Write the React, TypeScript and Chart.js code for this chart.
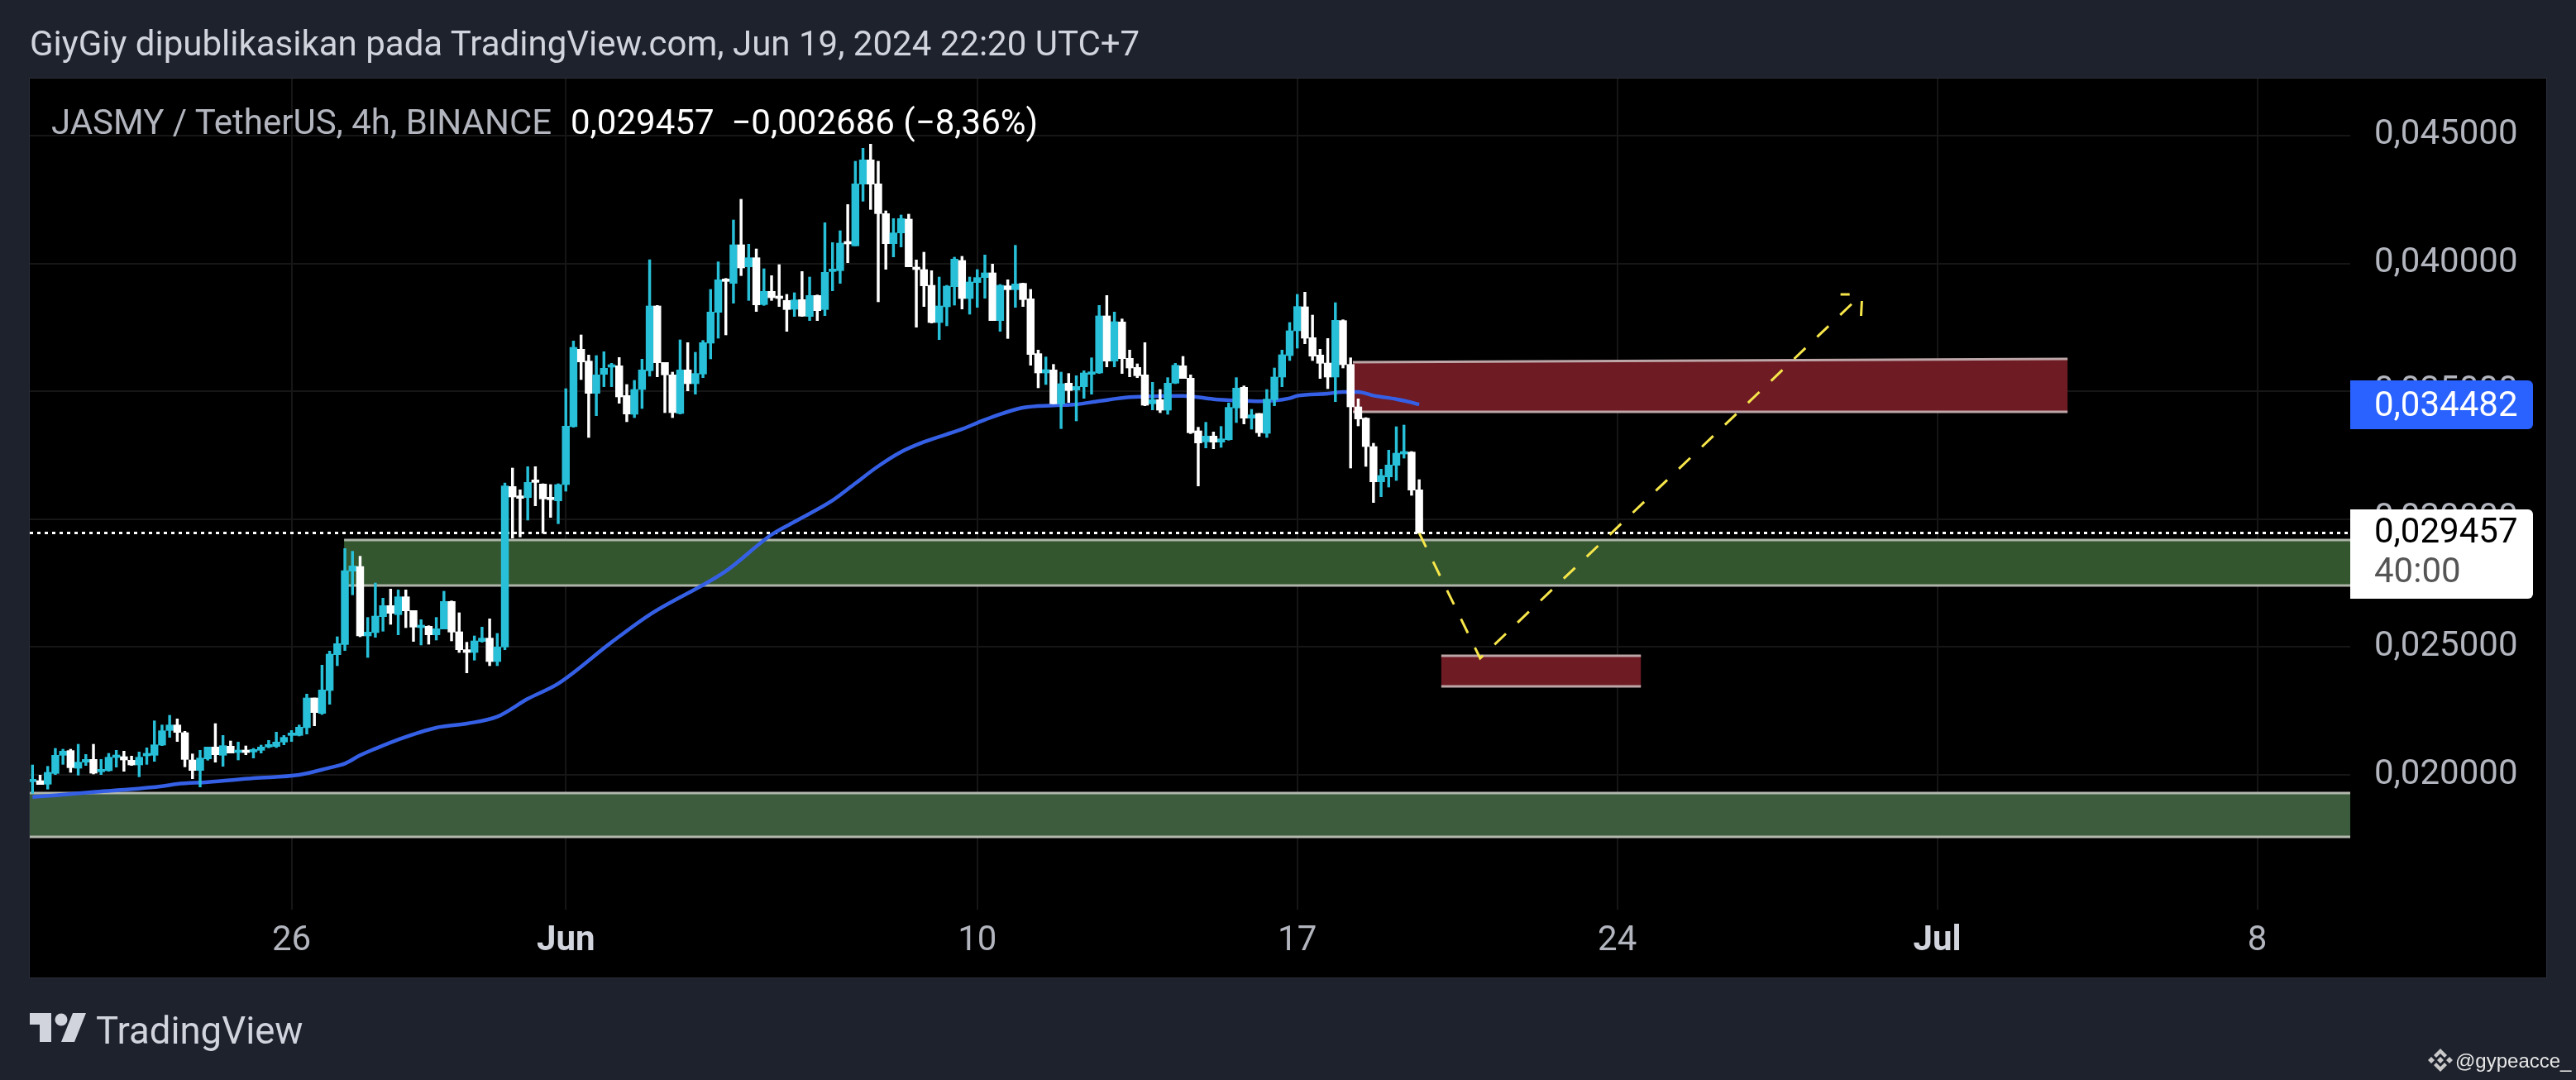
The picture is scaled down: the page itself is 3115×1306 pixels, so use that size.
import React, { useEffect, useRef } from "react";
import { Chart, registerables } from "chart.js";

Chart.register(...registerables);

// All prices in millionths of USDT
const UNIT = 1e-6;
const opens = [19731,19774,19634,20054,20766,20949,20259,20496,20604,20119,20162,20679,20712,20572,20388,20744,20766,21164,21736,21951,21650,20582,20173,20625,21089,20766,21121,20873,20927,20895,20960,21089,21111,21283,21542,21542,21844,23008,22404,23299,24700,25099,27967,28150,25433,25563,26188,26619,26264,26964,26425,25757,25811,25477,25703,26781,25595,24895,24787,25218,25347,24431,25002,31276,30899,30845,31492,31373,30824,30716,31352,33616,36645,36181,34920,35664,35944,35998,34834,34101,35071,35804,38337,36127,35642,34133,35836,35297,35675,36882,38089,39361,39221,40730,39868,40223,38391,38908,38682,38553,38208,38585,37927,38747,38197,39684,39717,40827,40687,43102,44050,43113,41948,40773,41194,41733,39846,39760,39145,37690,38305,39092,40116,38628,39253,39447,39631,37766,39124,38973,39221,38617,36472,35717,35836,34510,35319,35049,35178,35663,35717,37949,36181,37712,36289,35933,35642,34510,34672,34262,35318,35998,35512,33453,33022,33249,33011,33108,34348,35157,33949,34133,33356,34672,35556,36396,37367,38304,37097,36418,36105,35556,37765,36051,34391,33949,32839,31459,31653,32106,32548,32623,31147];
const highs = [20388,19989,20334,21035,21003,21003,21197,20798,21197,20604,20841,20960,20927,20733,20895,21057,22113,21951,22329,22189,21703,20819,20960,21089,22005,21542,21326,21283,21132,21035,21164,21348,21671,21542,21736,21951,23159,23008,24291,24840,25401,28851,28743,28549,26156,27503,26910,27266,27234,27234,26425,26070,25832,26156,27180,26803,26339,25186,25434,25778,26102,25531,31416,31999,31147,32052,32052,31384,31352,31384,35103,36968,37205,36418,36397,36548,36095,36321,35265,35427,36257,40148,38359,36127,35750,37011,36903,36526,36990,38984,40062,39415,41700,42509,40752,40568,39792,39523,39954,38790,38854,39684,39469,38768,41593,40816,41280,42304,43996,44503,44665,43996,42056,41754,41894,41927,40137,40439,39717,39469,39145,40245,40277,39469,39760,40331,39976,39178,39361,40709,39232,38984,36612,36343,36052,35750,35696,35609,35803,36310,38358,38746,38100,37830,36612,36073,36903,35351,35070,35534,36095,36364,35642,33594,33788,33410,33626,34542,35534,35211,34294,34133,35070,35911,36612,37690,38790,38876,37981,36644,37065,38466,37798,36310,34704,33971,32968,31955,32699,33615,33680,32645,31545];
const lows = [19278,19623,19440,20011,20410,20097,19989,20367,20033,20011,20140,20302,20140,20367,19925,20410,20528,21143,21466,21305,20313,19849,19526,20572,20496,20334,20852,20582,20787,20658,20852,21057,21067,21175,21305,21520,21596,21919,22361,22760,24269,24862,27040,25401,24592,25379,25617,25886,25477,25757,25218,25078,25110,25272,25703,25239,24787,23989,24485,25186,24269,24269,24894,29260,29304,29961,30522,29444,30069,29821,31093,33594,35459,33195,34047,35179,35179,34532,33810,33971,34327,35588,35567,34165,33971,34111,35017,34888,35534,36267,37076,37205,38445,39523,38553,38121,38359,38553,38315,37345,37927,37927,37766,37766,37960,38930,39221,40029,40687,42433,42110,38499,39771,40256,40644,39868,37507,38315,37669,37022,37561,38369,38218,38014,38283,38639,37766,37345,37065,38283,38315,36019,35135,35265,34510,33540,34564,33842,34725,34887,35696,35954,35954,35696,35566,35534,34434,34273,34165,34100,35297,35502,33346,31297,32785,32753,32807,33087,33777,33723,33518,33238,33195,34434,35178,36202,36687,36860,36202,35502,35103,34596,35911,31998,33647,32063,30651,30877,31254,31513,32386,30931,29457];
const closes = [19795,19623,20097,20766,20927,20280,20496,20604,20065,20194,20690,20733,20582,20388,20690,20798,21175,21725,21951,21660,20604,20173,20658,21089,20787,21143,20852,20927,20873,20960,21089,21132,21283,21466,21574,21865,23008,22436,23320,24722,25131,27988,28171,25433,25584,26209,26619,26317,26964,26415,25778,25854,25477,25714,26781,25584,24895,24787,25239,25347,24431,25002,31298,30867,30813,31438,31438,30791,30759,31352,33637,36720,36149,34920,35642,35901,36041,34780,34111,35071,35836,38337,36117,35642,34165,35836,35297,35696,36903,38100,39361,39296,40730,39825,40223,38380,38908,38660,38628,38197,38574,37938,38747,38154,39652,39749,40795,40762,43113,44050,43102,41948,40773,41194,41754,39868,39760,39124,37690,38337,39113,40170,38628,39275,39447,39631,37766,39145,38973,39199,38585,36440,35717,35847,34510,35297,35028,35189,35717,35750,37949,36181,37722,36278,35911,35609,34456,34672,34262,35318,36019,35502,33378,32979,33249,33011,33141,34370,35124,33949,34079,33378,34693,35556,36429,37367,38315,37076,36375,36095,35556,37776,36041,34391,33917,32839,31459,31707,32117,32580,32634,31136,29457];

const emaBars = [1,4,9,13,18,20,24,30,36,40,42,44,46,49,54,58,62,66,70,77,82,92,98,101,106,109,112,115,118,123,126,131,135,138,141,145,152,156,159,162,166,167,171,173,175,177,180,182,183];
const emaValues = [19138,19202,19332,19418,19558,19644,19720,19871,20000,20281,20440,20766,21024,21380,21844,22005,22275,22975,23569,25186,26264,27968,29395,29897,30733,31402,32071,32629,33019,33520,33888,34357,34446,34488,34618,34769,34823,34693,34639,34607,34726,34823,34909,34973,34973,34833,34693,34564,34482];

const pathBars = [183, 191, 241.2];
const pathPrices = [29457, 24560, 38822];
const arrowBars = [238.3, 239.5, 240, 241.1, 241];
const arrowPrices: (number | null)[] = [38790, 38790, null, 38531, 37949];

const lastPrice = 29457;
const emaLast = 34482;

const zoneStart = [41.9, 0.642, 174.3, 185.9];
const zoneEnd = [305.2, 305.2, 268.1, 212.1];
const zoneTopLeft = [29185, 19289, 36138, 24657];
const zoneTopRight = [29185, 19289, 36268, 24657];
const zoneBottom = [27406, 17575, 34197, 23460];
const zoneFill = ["#33562f", "#3d5c3d", "#6e1b23", "#6e1b23"];
const zoneLine = ["#adb3a8", "#b3b8ae", "#bda6a8", "#bda6a8"];

const xTickBars = [35, 71, 125, 167, 209, 251, 293];
const xTickLabels = ["26", "Jun", "10", "17", "24", "Jul", "8"];
const yTicks = [0.045, 0.04, 0.035, 0.03, 0.025, 0.02];

const X_MIN = 0.642;
const X_MAX = 305.2;
const Y_MIN = 0.014729;
const Y_MAX = 0.04723;

const UP = "#28c0d8";
const DOWN = "#ffffff";
const FONT = "Roboto, sans-serif";

const comma = (v: number) => v.toFixed(6).replace(".", ",");

const zonesPlugin = {
  id: "zones",
  beforeDatasetsDraw(chart: any) {
    const { ctx, scales } = chart;
    const x = scales.x;
    const y = scales.y;
    zoneStart.forEach((_, i) => {
      const x0 = x.getPixelForValue(zoneStart[i]);
      const x1 = x.getPixelForValue(zoneEnd[i]);
      const tl = y.getPixelForValue(zoneTopLeft[i] * UNIT);
      const tr = y.getPixelForValue(zoneTopRight[i] * UNIT);
      const b = y.getPixelForValue(zoneBottom[i] * UNIT);
      ctx.save();
      ctx.fillStyle = zoneFill[i];
      ctx.beginPath();
      ctx.moveTo(x0, tl);
      ctx.lineTo(x1, tr);
      ctx.lineTo(x1, b);
      ctx.lineTo(x0, b);
      ctx.closePath();
      ctx.fill();
      ctx.strokeStyle = zoneLine[i];
      ctx.lineWidth = 3;
      ctx.beginPath();
      ctx.moveTo(x0, tl);
      ctx.lineTo(x1, tr);
      ctx.moveTo(x0, b);
      ctx.lineTo(x1, b);
      ctx.stroke();
      ctx.restore();
    });
  },
};

const textStyle = (left: number, cy: number, size: number, color: string, extra: any = {}) => ({
  position: "absolute" as const,
  left,
  top: cy - 30,
  height: 60,
  lineHeight: "60px",
  fontFamily: FONT,
  fontSize: size,
  color,
  whiteSpace: "pre" as const,
  ...extra,
});

export default function App() {
  const ref = useRef<HTMLCanvasElement | null>(null);
  useEffect(() => {
    document.body.style.margin = "0";
    document.body.style.background = "#1e222d";
    const bars = opens.map((_, i) => i + 1);
    const colors = opens.map((o, i) => (closes[i] >= o ? UP : DOWN));
    const chart = new Chart(ref.current as HTMLCanvasElement, {
      type: "bar",
      plugins: [zonesPlugin],
      data: {
        datasets: [
          {
            type: "line",
            label: "path",
            data: pathBars.map((b, i) => ({ x: b, y: pathPrices[i] * UNIT })),
            borderColor: "#f7e64a",
            borderWidth: 3,
            borderDash: [19, 19.5],
            pointRadius: 0,
            order: 0,
          },
          {
            type: "line",
            label: "arrow",
            data: arrowBars.map((b, i) => ({ x: b, y: arrowPrices[i] === null ? null : (arrowPrices[i] as number) * UNIT })),
            borderColor: "#f7e64a",
            borderWidth: 3,
            pointRadius: 0,
            spanGaps: false,
            order: 0,
          },
          {
            label: "body",
            data: bars.map((b, i) => ({ x: b, y: [opens[i] * UNIT, closes[i] * UNIT] })),
            backgroundColor: colors,
            borderWidth: 0,
            barThickness: 8.8,
            minBarLength: 3,
            grouped: false,
            order: 1,
          },
          {
            label: "wick",
            data: bars.map((b, i) => ({ x: b, y: [lows[i] * UNIT, highs[i] * UNIT] })),
            backgroundColor: colors,
            borderWidth: 0,
            barThickness: 2.8,
            grouped: false,
            order: 2,
          },
          {
            type: "line",
            label: "ema",
            data: emaBars.map((b, i) => ({ x: b, y: emaValues[i] * UNIT })),
            borderColor: "#3560e6",
            borderWidth: 4.5,
            pointRadius: 0,
            cubicInterpolationMode: "monotone",
            order: 3,
          },
          {
            type: "line",
            label: "last",
            data: [
              { x: X_MIN, y: lastPrice * UNIT },
              { x: X_MAX, y: lastPrice * UNIT },
            ],
            borderColor: "#ffffff",
            borderWidth: 3,
            borderDash: [4, 5],
            pointRadius: 0,
            order: 4,
          },
        ] as any,
      },
      options: {
        animation: false,
        responsive: false,
        devicePixelRatio: 1,
        layout: { padding: { left: 36, top: 95, right: 36, bottom: 124 } },
        plugins: { legend: { display: false }, tooltip: { enabled: false } },
        scales: {
          x: {
            type: "linear",
            min: X_MIN,
            max: X_MAX,
            offset: false,
            grid: { color: "#161616", lineWidth: 2, drawTicks: false, offset: false },
            border: { display: false },
            afterBuildTicks: (s: any) => {
              s.ticks = xTickBars.map((v) => ({ value: v }));
            },
            afterFit: (s: any) => {
              s.height = 82;
            },
            ticks: {
              autoSkip: false,
              maxRotation: 0,
              padding: 13,
              color: (c: any) => (c.index === 1 || c.index === 5 ? "#d1d4dc" : "#b2b5be"),
              font: (c: any) => ({ family: FONT, size: 42, weight: c.index === 1 || c.index === 5 ? "bold" : "normal" }),
              callback: (v: any) => xTickLabels[xTickBars.indexOf(v)],
            },
          },
          y: {
            type: "linear",
            position: "right",
            min: Y_MIN,
            max: Y_MAX,
            grid: { color: "#161616", lineWidth: 2, drawTicks: false },
            border: { display: false },
            afterBuildTicks: (s: any) => {
              s.ticks = yTicks.map((v) => ({ value: v }));
            },
            afterFit: (s: any) => {
              s.width = 237;
            },
            ticks: {
              padding: 29,
              color: "#b2b5be",
              font: { family: FONT, size: 42 },
              callback: (v: any) => comma(v),
            },
          },
        },
      } as any,
    });
    return () => chart.destroy();
  }, []);

  return (
    <div style={{ position: "fixed", left: 0, top: 0, width: 3115, height: 1306, background: "#1e222d", overflow: "hidden" }}>
      <div style={{ position: "absolute", left: 36, top: 95, width: 3043, height: 1087, background: "#000", boxShadow: "0 0 0 1px #2a2e39" }} />
      <canvas ref={ref} width={3115} height={1306} style={{ position: "absolute", left: 0, top: 0, width: 3115, height: 1306 }} />

      <div style={textStyle(36, 53, 42, "#d1d4dc")}>GiyGiy dipublikasikan pada TradingView.com, Jun 19, 2024 22:20 UTC+7</div>
      <div style={textStyle(62, 148, 42, "#b2b5be")}>JASMY / TetherUS, 4h, BINANCE</div>
      <div style={textStyle(690, 148, 42, "#ffffff")}>{comma(lastPrice * UNIT)}{"  "}−0,002686 (−8,36%)</div>

      <div style={{ position: "absolute", left: 2842, top: 460, width: 221, height: 59, background: "#2962ff", borderRadius: "0 6px 6px 0" }} />
      <div style={textStyle(2871, 489, 42, "#ffffff")}>{comma(emaLast * UNIT)}</div>
      <div style={{ position: "absolute", left: 2842, top: 616, width: 221, height: 108, background: "#ffffff", borderRadius: "0 6px 6px 0" }} />
      <div style={textStyle(2871, 642, 42, "#000000")}>{comma(lastPrice * UNIT)}</div>
      <div style={textStyle(2871, 690, 42, "#555555")}>40:00</div>

      <svg style={{ position: "absolute", left: 36, top: 1225 }} width={70} height={36} viewBox="0 0 70 36">
        <path d="M0 0H26V35H12V14H0Z M52 0H68L54 35H38Z" fill="#d1d4dc" />
        <circle cx="38" cy="8" r="7.5" fill="#d1d4dc" />
      </svg>
      <div style={textStyle(116, 1247, 45.5, "#d1d4dc")}>TradingView</div>

      <svg style={{ position: "absolute", left: 2936, top: 1267 }} width={30} height={30} viewBox="0 0 30 30">
        <path d="M15 1L23 9L20 12L15 7L10 12L7 9Z M15 29L7 21L10 18L15 23L20 18L23 21Z M15 11L19 15L15 19L11 15Z M4 11L8 15L4 19L0 15Z M26 11L30 15L26 19L22 15Z" fill="#c9c9c9" />
      </svg>
      <div style={textStyle(2969, 1283, 24, "#e6e6e6", { fontFamily: "'Liberation Sans', sans-serif" })}>@gypeacce_</div>
    </div>
  );
}
